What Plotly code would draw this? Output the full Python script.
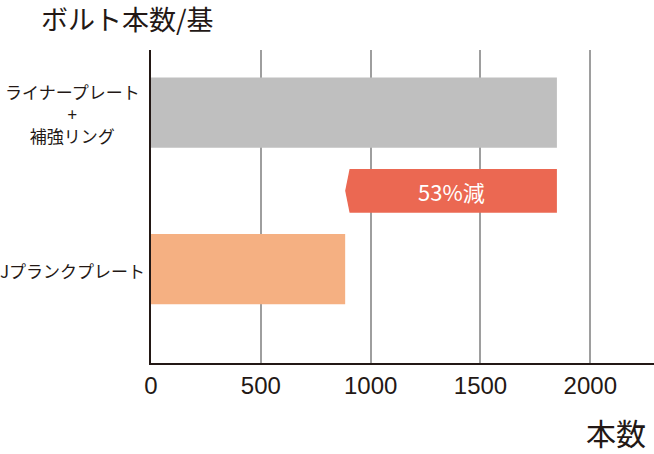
import plotly.graph_objects as go

# data
categories = ["ライナープレート<br>+<br>補強リング", "Jプランクプレート"]
bolts = [1848, 884]
bar_colors = ["#bfbfbf", "#f5b082"]
reduction_label = "53%減"
tick_values = [0, 500, 1000, 1500, 2000]

cat_pos = [2, 0]          # rows on the y axis (arrow sits on row 1)
arrow_row = 1
ink = "#231815"
jp_font = "Noto Sans CJK JP"
num_font = "Liberation Sans, Noto Sans CJK JP"

fig = go.Figure()

fig.add_trace(go.Bar(
    x=bolts,
    y=cat_pos,
    orientation="h",
    width=0.9,
    marker=dict(color=bar_colors, line=dict(width=0)),
    hoverinfo="skip",
))

# reduction arrow: from the new value back up to the old one
start, end = min(bolts), max(bolts)
notch = 20
half = 0.28
fig.add_trace(go.Scatter(
    x=[end, start + notch, start, start + notch, end, end],
    y=[arrow_row + half, arrow_row + half, arrow_row, arrow_row - half,
       arrow_row - half, arrow_row + half],
    mode="lines",
    fill="toself",
    fillcolor="#eb6852",
    line=dict(width=0, color="#eb6852"),
    hoverinfo="skip",
))

annotations = [dict(
    x=(start + end) / 2, y=arrow_row, xref="x", yref="y",
    text=reduction_label, showarrow=False,
    font=dict(family=jp_font, size=22, color="white"),
)]

# category labels, centred to the left of the axis
for name, pos in zip(categories, cat_pos):
    annotations.append(dict(
        x=0, y=pos, xref="x", yref="y",
        text=name, showarrow=False, align="center",
        xanchor="center", yanchor="middle", xshift=-79, yshift=-1,
        font=dict(family=jp_font, size=17, color=ink),
    ))

annotations.append(dict(
    x=1, y=0, xref="paper", yref="paper",
    text="本数", showarrow=False,
    xanchor="right", yanchor="middle", xshift=-6, yshift=-69,
    font=dict(family=jp_font, size=30, color=ink),
))

fig.update_layout(
    width=654, height=454,
    margin=dict(l=151, r=0, t=50, b=91),
    paper_bgcolor="white", plot_bgcolor="white",
    showlegend=False,
    title=dict(
        text="ボルト本数/基", xref="container", yref="container",
        x=41 / 654, y=1 - 21 / 454, xanchor="left", yanchor="middle",
        font=dict(family=jp_font, size=27, color=ink),
    ),
    annotations=annotations,
    xaxis=dict(
        range=[0, 2290], tickvals=tick_values,
        showgrid=True, gridcolor="#9e9e9e", gridwidth=2,
        zeroline=False,
        showline=True, linecolor=ink, linewidth=2,
        ticks="", ticklen=0,
        tickfont=dict(family=num_font, size=24, color=ink),
    ),
    yaxis=dict(
        range=[-1.2, 2.8], showticklabels=False,
        showgrid=False, zeroline=False,
        showline=True, linecolor=ink, linewidth=2,
        ticks="",
    ),
)

fig.write_html("out.html", config={"displayModeBar": False},
               post_script="document.body.style.margin='0';")
